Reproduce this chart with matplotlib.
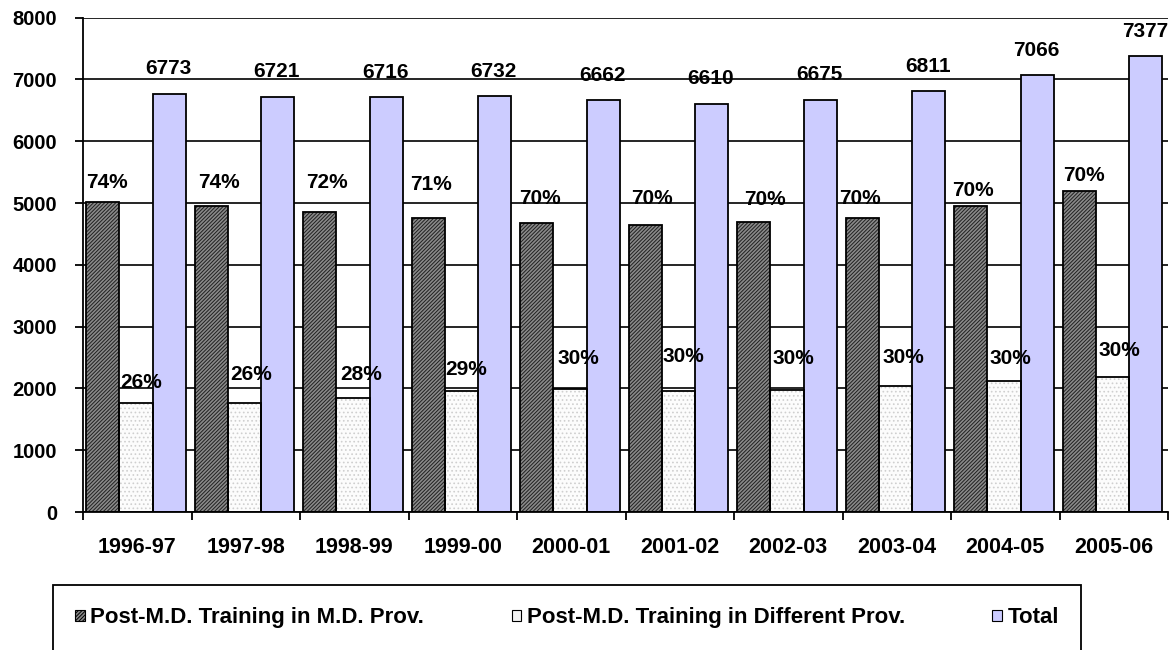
import matplotlib
matplotlib.use("Agg")
import matplotlib.pyplot as plt
import numpy as np
from matplotlib.patches import Patch, Rectangle

# ---------------- data ----------------
years = ["1996-97", "1997-98", "1998-99", "1999-00", "2000-01",
         "2001-02", "2002-03", "2003-04", "2004-05", "2005-06"]
same_prov = [5012, 4945, 4855, 4760, 4670, 4640, 4690, 4765, 4950, 5190]
diff_prov = [1762, 1765, 1840, 1960, 1992, 1965, 1980, 2040, 2115, 2185]
total = [6773, 6721, 6716, 6732, 6662, 6610, 6675, 6811, 7066, 7377]
same_pct = ["74%", "74%", "72%", "71%", "70%", "70%", "70%", "70%", "70%", "70%"]
diff_pct = ["26%", "26%", "28%", "29%", "30%", "30%", "30%", "30%", "30%", "30%"]
series_names = ["Post-M.D. Training in M.D. Prov.",
                "Post-M.D. Training in Different Prov.",
                "Total"]

# ---------------- layout / style ----------------
# label offsets above bar tops (pixels) and horizontal nudges (pixels)
same_dy = [20, 24, 30, 33, 25, 27, 23, 19.5, 15.5, 16]
same_dx = [4.5, 7.5, 7, 3, 3.5, 6.5, 11, -2.5, 2.5, 4.5]
diff_dy = [21, 28, 23.5, 21, 30, 34, 31.5, 28, 23, 26.5]
diff_dx = [5.5, 7, 8.5, 5, 8, 5, 6.5, 7.5, 6.5, 6.5]
total_dy = 25
px = 72 / 100.0  # pixel -> points

FONT = "Liberation Sans"
plt.rcParams["font.family"] = [FONT, "DejaVu Sans"]
plt.rcParams["hatch.linewidth"] = 0.7

fig = plt.figure(figsize=(11.74, 6.5), dpi=100)
ax = fig.add_axes([83 / 1174, (650 - 512) / 650, (1168 - 83) / 1174, (512 - 17.7) / 650])

x = np.arange(len(years))
w = 0.307
shift = -0.0115
pos = [x + shift - w, x + shift, x + shift + w]

dark_face, dark_hatch = "#8a8a8a", "#202020"
light_face, light_hatch = "#fcfcfc", "#cfcfcf"
total_face = "#ccccff"

# hatched fills
ax.bar(pos[0], same_prov, w, color=dark_face, edgecolor=dark_hatch, hatch="/////////",
       linewidth=0, zorder=3)
ax.bar(pos[1], diff_prov, w, color=light_face, edgecolor=light_hatch, hatch="....",
       linewidth=0, zorder=3)
ax.bar(pos[2], total, w, color=total_face, linewidth=0, zorder=3)
# outlines
for p, vals in zip(pos, [same_prov, diff_prov, total]):
    ax.bar(p, vals, w, fill=False, edgecolor="black", linewidth=1.3, zorder=4)

# labels
lab_kw = dict(textcoords="offset points", ha="center", va="center",
              fontsize=15, fontweight="bold", zorder=5, annotation_clip=False)
for i in range(len(years)):
    ax.annotate(same_pct[i], (pos[0][i], same_prov[i]),
                xytext=(same_dx[i] * px, same_dy[i] * px), **lab_kw)
    ax.annotate(diff_pct[i], (pos[1][i], diff_prov[i]),
                xytext=(diff_dx[i] * px, diff_dy[i] * px), **lab_kw)
    ax.annotate(str(total[i]), (pos[2][i], total[i]),
                xytext=(-1 * px, total_dy * px), **lab_kw)

# axes
ax.set_xlim(-0.5, len(years) - 0.5)
ax.set_ylim(0, 8000)
ax.set_yticks(np.arange(0, 8001, 1000))
ax.yaxis.grid(True, color="black", linewidth=1.2, zorder=1)
ax.set_axisbelow(True)
for s in ["top", "right"]:
    ax.spines[s].set_visible(False)
ax.spines["left"].set_linewidth(1.3)
ax.spines["bottom"].set_linewidth(1.3)
ax.spines["bottom"].set_zorder(6)

ax.set_xticks(x)
ax.set_xticklabels(years, fontsize=15.5, fontweight="bold")
ax.set_xticks(np.arange(-0.5, len(years), 1.0), minor=True)
ax.tick_params(axis="x", which="major", length=0, pad=18)
ax.tick_params(axis="x", which="minor", length=5.8, width=1.3, direction="out")
ax.tick_params(axis="y", length=5.8, width=1.3, direction="out", pad=13,
               labelsize=14.5)
for t in ax.get_yticklabels():
    t.set_fontweight("bold")

# legend (frame drawn separately so it runs off the bottom edge)
handles = [Patch(facecolor=dark_face, edgecolor="black", hatch="/////////", linewidth=0.8),
           Patch(facecolor="#f4f4f4", edgecolor="black", linewidth=0.8),
           Patch(facecolor=total_face, edgecolor="black", linewidth=0.8)]
leg = fig.legend(handles, series_names, loc="upper left", ncol=3,
                 bbox_to_anchor=(53 / 1174, (650 - 585) / 650, (1081 - 53) / 1174, 0),
                 mode="expand", frameon=False,
                 prop={"family": FONT, "weight": "bold", "size": 16},
                 handlelength=0.42, handleheight=0.42, handletextpad=0.25,
                 borderpad=1.0, borderaxespad=0, columnspacing=1.2)
fig.patches.append(Rectangle((53 / 1174, -0.05), (1081 - 53) / 1174, (650 - 585) / 650 + 0.05,
                             transform=fig.transFigure, fill=False, edgecolor="black",
                             linewidth=1.3, clip_on=False))

fig.savefig("out.png", dpi=100)
